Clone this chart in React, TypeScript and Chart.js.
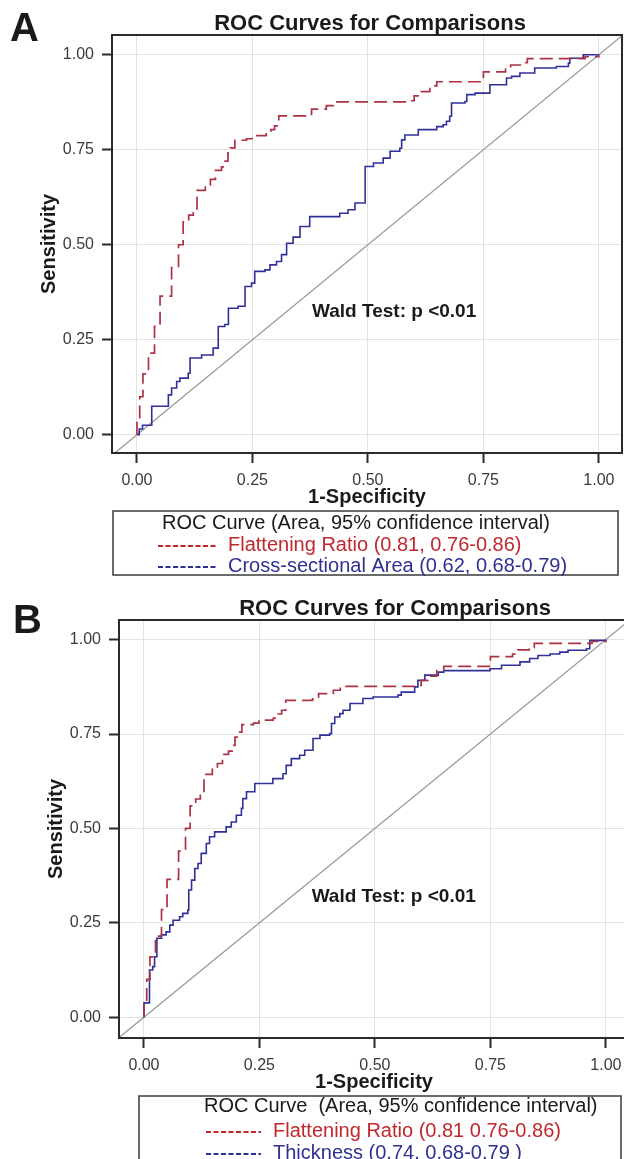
import React, { useEffect, useRef } from "react";
import { Chart, registerables } from "chart.js";

Chart.register(...registerables);

// ---------- data ----------
const AXIS_TICKS = [0, 0.25, 0.5, 0.75, 1.0];

// Flattening Ratio (same curve in both panels)
const FLAT_X = [0, 0, 0.006, 0.013, 0.025, 0.038, 0.05, 0.075, 0.09, 0.1, 0.112, 0.122, 0.13, 0.148, 0.159, 0.17, 0.183, 0.191, 0.197, 0.202, 0.212, 0.237, 0.249, 0.28, 0.29, 0.298, 0.307, 0.365, 0.378, 0.41, 0.425, 0.59, 0.6, 0.615, 0.634, 0.649, 0.75, 0.798, 0.809, 0.834, 0.845, 0.97, 1.0];
const FLAT_Y = [0, 0.035, 0.1, 0.16, 0.215, 0.285, 0.365, 0.44, 0.5, 0.56, 0.578, 0.59, 0.643, 0.657, 0.672, 0.696, 0.705, 0.72, 0.742, 0.755, 0.775, 0.779, 0.787, 0.792, 0.803, 0.813, 0.839, 0.843, 0.857, 0.866, 0.876, 0.879, 0.892, 0.903, 0.918, 0.929, 0.955, 0.962, 0.973, 0.979, 0.99, 0.995, 1.0];

// Cross-sectional Area (panel A)
const CSA_X = [0, 0.005, 0.012, 0.032, 0.068, 0.075, 0.086, 0.093, 0.111, 0.115, 0.14, 0.165, 0.176, 0.19, 0.198, 0.219, 0.234, 0.248, 0.255, 0.277, 0.288, 0.302, 0.313, 0.324, 0.338, 0.353, 0.374, 0.439, 0.457, 0.472, 0.494, 0.512, 0.533, 0.548, 0.569, 0.573, 0.58, 0.609, 0.649, 0.663, 0.67, 0.677, 0.681, 0.71, 0.714, 0.732, 0.764, 0.8, 0.811, 0.829, 0.861, 0.908, 0.934, 0.937, 0.966, 1.0];
const CSA_Y = [0, 0.015, 0.025, 0.075, 0.105, 0.123, 0.14, 0.149, 0.162, 0.202, 0.21, 0.228, 0.285, 0.29, 0.333, 0.338, 0.39, 0.399, 0.43, 0.434, 0.447, 0.456, 0.474, 0.504, 0.52, 0.548, 0.574, 0.583, 0.592, 0.61, 0.706, 0.715, 0.728, 0.746, 0.754, 0.776, 0.789, 0.803, 0.811, 0.816, 0.825, 0.838, 0.873, 0.877, 0.895, 0.899, 0.921, 0.939, 0.943, 0.952, 0.965, 0.969, 0.978, 0.991, 1.0, 1.0];

// Thickness (panel B)
const THICK_X = [0, 0, 0.012, 0.019, 0.023, 0.028, 0.038, 0.048, 0.056, 0.063, 0.077, 0.084, 0.095, 0.097, 0.103, 0.11, 0.117, 0.124, 0.135, 0.142, 0.153, 0.178, 0.189, 0.2, 0.211, 0.214, 0.222, 0.24, 0.279, 0.301, 0.308, 0.319, 0.337, 0.348, 0.366, 0.381, 0.402, 0.406, 0.413, 0.424, 0.431, 0.446, 0.474, 0.496, 0.55, 0.557, 0.586, 0.593, 0.608, 0.637, 0.649, 0.749, 0.774, 0.814, 0.835, 0.853, 0.879, 0.9, 0.918, 0.958, 0.965, 1.0];
const THICK_Y = [0, 0.038, 0.125, 0.134, 0.16, 0.209, 0.218, 0.226, 0.244, 0.257, 0.266, 0.275, 0.284, 0.337, 0.363, 0.394, 0.407, 0.434, 0.46, 0.478, 0.491, 0.504, 0.517, 0.535, 0.553, 0.579, 0.597, 0.619, 0.632, 0.645, 0.667, 0.685, 0.694, 0.707, 0.738, 0.747, 0.751, 0.778, 0.795, 0.804, 0.813, 0.831, 0.844, 0.848, 0.853, 0.861, 0.875, 0.892, 0.906, 0.914, 0.918, 0.923, 0.932, 0.941, 0.95, 0.958, 0.962, 0.967, 0.972, 0.976, 0.998, 1.0];

// Chance (reference) line y = x
const REF_LINE = [-0.1, 1.1];

const WALD_A = [0.379, 0.324];
const WALD_B = [0.363, 0.319];

// ---------- text ----------
const TITLE = "ROC Curves for Comparisons";
const X_TITLE = "1-Specificity";
const Y_TITLE = "Sensitivity";
const WALD_TEXT = "Wald Test: p <0.01";
const LEGEND_HEADER_A = "ROC Curve (Area, 95% confidence interval)";
const LEGEND_HEADER_B = "ROC Curve  (Area, 95% confidence interval)";
const LABELS_A = ["Flattening Ratio (0.81, 0.76-0.86)", "Cross-sectional Area (0.62, 0.68-0.79)"];
const LABELS_B = ["Flattening Ratio (0.81 0.76-0.86)", "Thickness (0.74, 0.68-0.79 )"];

// ---------- style ----------
const FONT = '"Liberation Sans", Arial, Helvetica, sans-serif';
const RED_LINE = "#ad3244";
const BLUE_LINE = "#30309a";
const RED_TEXT = "#c1272d";
const BLUE_TEXT = "#2e3192";
const INK = "#1a1a1a";

const PANEL_A = {
  letter: "A",
  canvasW: 624,
  canvasH: 582,
  top: 0,
  box: { left: 112, right: 622, top: 35, bottom: 453 },
  xRange: [-0.054, 1.05],
  yRange: [-0.048, 1.052],
  letterPos: [10, 41],
  titleCenter: 370,
  titleBase: 30,
  yTitleX: 49,
  legend: { x: 113, y: 511, w: 505, h: 64, headerX: 162, headerY: 523, rowY: [545, 566], dashX: [158, 216], textX: 228 },
  header: LEGEND_HEADER_A,
  labels: LABELS_A,
  wald: WALD_A,
  blueX: CSA_X,
  blueY: CSA_Y,
};

const PANEL_B = {
  letter: "B",
  canvasW: 632,
  canvasH: 577,
  top: 582,
  box: { left: 119, right: 629, top: 38, bottom: 456 },
  xRange: [-0.054, 1.05],
  yRange: [-0.055, 1.052],
  letterPos: [13, 51],
  titleCenter: 395,
  titleBase: 33,
  yTitleX: 56,
  legend: { x: 139, y: 514, w: 482, h: 100, headerX: 204, headerY: 524, rowY: [549, 571], dashX: [206, 261], textX: 273 },
  header: LEGEND_HEADER_B,
  labels: LABELS_B,
  wald: WALD_B,
  blueX: THICK_X,
  blueY: THICK_Y,
};

const X_AXIS_H = 56;

function makeDecor(cfg: any) {
  return {
    id: "decor" + cfg.letter,
    afterDraw(chart: any) {
      const ctx = chart.ctx as CanvasRenderingContext2D;
      const ca = chart.chartArea;
      const xs = chart.scales.x;
      const ys = chart.scales.y;
      ctx.save();
      // plot box
      ctx.strokeStyle = "#2b2b2b";
      ctx.lineWidth = 2;
      ctx.strokeRect(ca.left, ca.top, ca.right - ca.left, ca.bottom - ca.top);

      // panel letter
      ctx.fillStyle = INK;
      ctx.textAlign = "left";
      ctx.textBaseline = "alphabetic";
      ctx.font = `bold 40px ${FONT}`;
      ctx.fillText(cfg.letter, cfg.letterPos[0], cfg.letterPos[1]);

      // title
      ctx.font = `bold 22px ${FONT}`;
      ctx.textAlign = "center";
      ctx.fillText(TITLE, cfg.titleCenter, cfg.titleBase);

      // Wald test annotation
      ctx.font = `bold 19px ${FONT}`;
      ctx.textAlign = "left";
      ctx.textBaseline = "middle";
      ctx.fillText(WALD_TEXT, xs.getPixelForValue(cfg.wald[0]), ys.getPixelForValue(cfg.wald[1]));

      // legend box
      const L = cfg.legend;
      ctx.strokeStyle = "#3a3a3a";
      ctx.lineWidth = 1.5;
      ctx.strokeRect(L.x, L.y, L.w, L.h);
      ctx.font = `20px ${FONT}`;
      ctx.fillStyle = INK;
      ctx.textAlign = "left";
      ctx.textBaseline = "middle";
      ctx.fillText(cfg.header, L.headerX, L.headerY);
      const colors = [RED_TEXT, BLUE_TEXT];
      for (let i = 0; i < 2; i++) {
        ctx.strokeStyle = colors[i];
        ctx.lineWidth = 2;
        ctx.setLineDash([5, 2.5]);
        ctx.beginPath();
        ctx.moveTo(L.dashX[0], L.rowY[i] + 1);
        ctx.lineTo(L.dashX[1], L.rowY[i] + 1);
        ctx.stroke();
        ctx.setLineDash([]);
        ctx.fillStyle = colors[i];
        ctx.fillText(cfg.labels[i], L.textX, L.rowY[i]);
      }
      ctx.restore();
    },
  };
}

function buildConfig(cfg: any) {
  const flat = FLAT_X.map((x, i) => ({ x, y: FLAT_Y[i] }));
  const blue = cfg.blueX.map((x: number, i: number) => ({ x, y: cfg.blueY[i] }));
  const ref = REF_LINE.map((v) => ({ x: v, y: v }));
  const tickFont = { family: FONT, size: 16 };
  const titleFont = { family: FONT, size: 20, weight: "bold" as const };
  return {
    type: "line" as const,
    data: {
      datasets: [
        {
          label: "Flattening Ratio",
          data: flat,
          borderColor: RED_LINE,
          borderWidth: 1.7,
          borderDash: [13, 6],
          stepped: true,
          pointRadius: 0,
          fill: false,
        },
        {
          label: "Comparison",
          data: blue,
          borderColor: BLUE_LINE,
          borderWidth: 1.6,
          stepped: true,
          pointRadius: 0,
          fill: false,
        },
        {
          label: "Reference",
          data: ref,
          borderColor: "#9a9a9a",
          borderWidth: 1.3,
          pointRadius: 0,
          fill: false,
        },
      ],
    },
    options: {
      responsive: false,
      animation: false,
      devicePixelRatio: 1,
      events: [],
      layout: {
        padding: {
          left: 0,
          top: cfg.box.top,
          right: cfg.canvasW - cfg.box.right,
          bottom: cfg.canvasH - cfg.box.bottom - X_AXIS_H,
        },
      },
      plugins: {
        legend: { display: false },
        tooltip: { enabled: false },
        title: { display: false },
      },
      scales: {
        x: {
          type: "linear",
          min: cfg.xRange[0],
          max: cfg.xRange[1],
          afterBuildTicks: (s: any) => {
            s.ticks = AXIS_TICKS.map((v) => ({ value: v }));
          },
          afterFit: (s: any) => {
            s.height = X_AXIS_H;
          },
          ticks: {
            callback: (v: any) => Number(v).toFixed(2),
            font: tickFont,
            color: "#3a3a3a",
            padding: 8,
            maxRotation: 0,
            autoSkip: false,
          },
          grid: { color: "#e2e2e2", lineWidth: 1, tickLength: 10, tickColor: "#2b2b2b", tickWidth: 2 },
          border: { display: false },
          title: { display: true, text: X_TITLE, font: titleFont, color: INK, padding: { top: 0, bottom: 0 } },
        },
        y: {
          type: "linear",
          min: cfg.yRange[0],
          max: cfg.yRange[1],
          afterBuildTicks: (s: any) => {
            s.ticks = AXIS_TICKS.map((v) => ({ value: v }));
          },
          afterFit: (s: any) => {
            s.width = cfg.box.left;
          },
          ticks: {
            callback: (v: any) => Number(v).toFixed(2),
            font: tickFont,
            color: "#3a3a3a",
            padding: 8,
            autoSkip: false,
          },
          grid: { color: "#e2e2e2", lineWidth: 1, tickLength: 10, tickColor: "#2b2b2b", tickWidth: 2 },
          border: { display: false },
          title: { display: true, text: Y_TITLE, font: titleFont, color: INK, padding: { top: cfg.yTitleX - 12, bottom: 0 } },
        },
      },
    },
    plugins: [makeDecor(cfg)],
  };
}

function Panel({ cfg }: { cfg: any }) {
  const ref = useRef<HTMLCanvasElement>(null);
  useEffect(() => {
    const chart = new Chart(ref.current as HTMLCanvasElement, buildConfig(cfg) as any);
    return () => chart.destroy();
  }, [cfg]);
  return (
    <canvas
      ref={ref}
      width={cfg.canvasW}
      height={cfg.canvasH}
      style={{ position: "absolute", left: 0, top: cfg.top, width: cfg.canvasW, height: cfg.canvasH, display: "block" }}
    />
  );
}

export default function App() {
  return (
    <div
      style={{
        position: "absolute",
        left: 0,
        top: 0,
        width: 624,
        height: 1159,
        overflow: "hidden",
        background: "#ffffff",
      }}
    >
      <Panel cfg={PANEL_A} />
      <Panel cfg={PANEL_B} />
    </div>
  );
}
